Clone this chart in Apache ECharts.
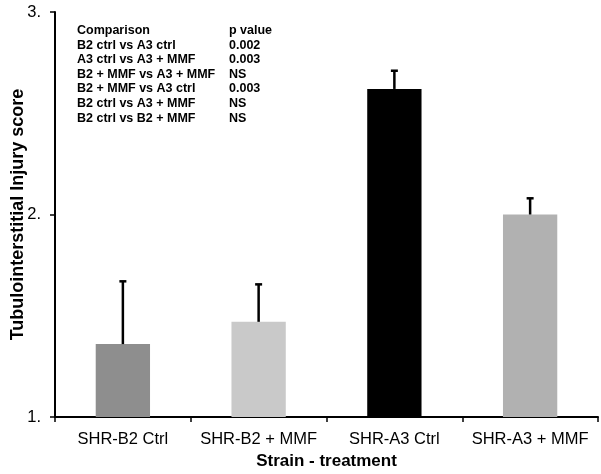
<!DOCTYPE html>
<html>
<head>
<meta charset="utf-8">
<script src="https://cdn.jsdelivr.net/npm/echarts@6/dist/echarts.min.js"></script>
<style>html,body{margin:0;padding:0;background:#fff}#c{width:601px;height:474px}</style>
</head>
<body>
<div id="c"></div>
<script>
const categories = ['SHR-B2 Ctrl', 'SHR-B2 + MMF', 'SHR-A3 Ctrl', 'SHR-A3 + MMF'];
const means = [1.36, 1.47, 2.62, 2.00];
const errorTops = [1.67, 1.655, 2.71, 2.08];
const barColors = ['#8e8e8e', '#c9c9c9', '#000000', '#b1b1b1'];
const comparisons = ['B2 ctrl vs A3 ctrl', 'A3 ctrl vs A3 + MMF', 'B2 + MMF vs A3 + MMF', 'B2 + MMF vs A3 ctrl', 'B2 ctrl vs A3 + MMF', 'B2 ctrl vs B2 + MMF'];
const pValues = ['0.002', '0.003', 'NS', '0.003', 'NS', 'NS'];
const yTicks = [1, 2, 3];

const font = 'Liberation Sans, Arial, sans-serif';
const chart = echarts.init(document.getElementById('c'));

const tableTexts = [];
const header = [['Comparison', 'p value']].concat(comparisons.map((c, i) => [c, pValues[i]]));
header.forEach((row, i) => {
  tableTexts.push({type: 'text', left: 77, top: 24 + i * 14.6, style: {text: row[0], font: 'bold 12.5px ' + font, fill: '#000'}});
  tableTexts.push({type: 'text', left: 229, top: 24 + i * 14.6, style: {text: row[1], font: 'bold 12.5px ' + font, fill: '#000'}});
});

chart.setOption({
  animation: false,
  backgroundColor: '#fff',
  grid: {left: 55, right: 3, top: 12, bottom: 57, containLabel: false, outerBoundsMode: 'none'},
  xAxis: {
    type: 'category',
    data: categories,
    name: 'Strain - treatment',
    nameLocation: 'middle',
    nameGap: 36,
    nameMoveOverlap: false,
    nameTextStyle: {fontFamily: font, fontWeight: 'bold', fontSize: 17, color: '#000'},
    axisLine: {lineStyle: {color: '#000', width: 2}},
    axisTick: {show: true, length: 5, lineStyle: {color: '#000', width: 1.5}},
    axisLabel: {fontFamily: font, fontSize: 16.5, color: '#000', margin: 14, interval: 0, hideOverlap: false}
  },
  yAxis: {
    type: 'value',
    min: 1, max: 3, interval: 1,
    name: 'Tubulointerstitial Injury score',
    nameLocation: 'middle',
    nameGap: 28,
    nameMoveOverlap: false,
    nameTextStyle: {fontFamily: font, fontWeight: 'bold', fontSize: 18, color: '#000'},
    axisLine: {show: true, lineStyle: {color: '#000', width: 2}},
    axisTick: {show: true, length: 5, lineStyle: {color: '#000', width: 1.5}},
    splitLine: {show: false},
    axisLabel: {fontFamily: font, fontSize: 16.5, color: '#000', margin: 14, formatter: v => v + '.'}
  },
  series: [
    {
      type: 'bar',
      barWidth: '40%',
      data: means.map((v, i) => ({value: v, itemStyle: {color: barColors[i]}})),
      z: 2
    },
    {
      type: 'custom',
      z: 3,
      data: means.map((v, i) => [i, v, errorTops[i]]),
      renderItem: (params, api) => {
        const base = api.coord([api.value(0), api.value(1)]);
        const top = api.coord([api.value(0), api.value(2)]);
        return {
          type: 'group',
          children: [
            {type: 'line', shape: {x1: base[0], y1: base[1], x2: top[0], y2: top[1]}, style: {stroke: '#000', lineWidth: 2.5}},
            {type: 'line', shape: {x1: top[0] - 3.5, y1: top[1], x2: top[0] + 3.5, y2: top[1]}, style: {stroke: '#000', lineWidth: 2.5}}
          ]
        };
      }
    }
  ],
  graphic: tableTexts
});
</script>
</body>
</html>
